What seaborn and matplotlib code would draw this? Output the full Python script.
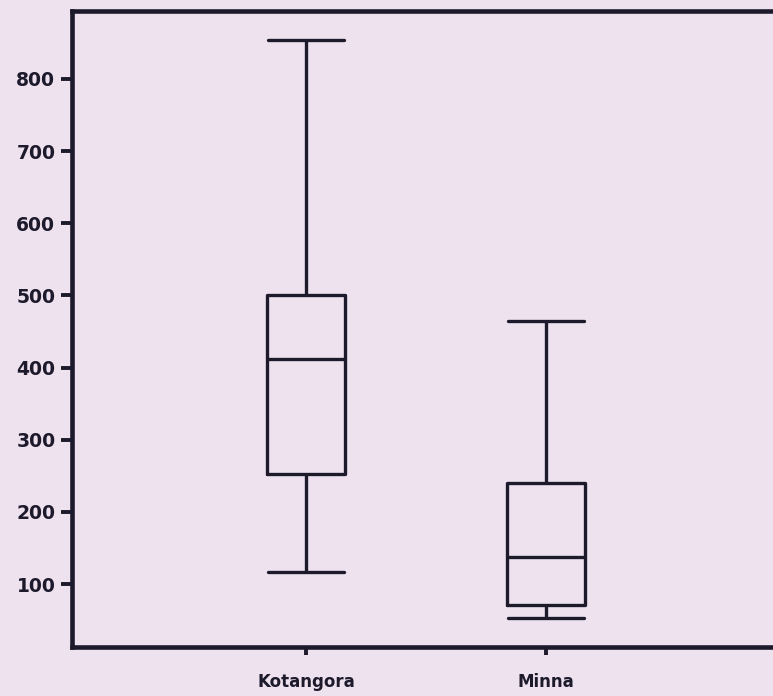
import numpy as np
import pandas as pd
import matplotlib
matplotlib.use("Agg")
import matplotlib.pyplot as plt
import seaborn as sns

# Five-number summaries (min, Q1, median, Q3, max)
locations = ["Kotangora", "Minna"]
kotangora_vals = [117, 253, 412, 500, 854]
minna_vals = [53, 71, 137, 240, 464]
yticks = [100, 200, 300, 400, 500, 600, 700, 800]

df = pd.DataFrame({
    "location": [locations[0]] * len(kotangora_vals) + [locations[1]] * len(minna_vals),
    "value": kotangora_vals + minna_vals,
})

sns.set_theme(style="ticks")
plt.rcParams["font.family"] = ["DejaVu Sans"]

bg = "#efe2ef"
ink = "#1d1a2c"

fig = plt.figure(figsize=(7.73, 6.96), dpi=100, facecolor=bg)
ax = fig.add_axes([72 / 773, 49 / 696, (780 - 72) / 773, (647 - 11) / 696])
ax.set_facecolor(bg)

sns.boxplot(data=df, x="location", y="value", order=locations, ax=ax,
            whis=np.inf, width=0.325, fill=False, color=ink, linecolor=ink,
            linewidth=2.4, capwidths=0.32)

ax.set_xlim(-0.975, 1.975)
ax.set_yticks(yticks)
ax.set_xlabel("")
ax.set_ylabel("")
for s in ax.spines.values():
    s.set_linewidth(3.3)
    s.set_color(ink)
ax.tick_params(axis="y", length=8, width=2.8, color=ink, pad=4)
ax.tick_params(axis="x", length=6, width=2.8, color=ink, pad=13)
for lab in ax.get_yticklabels():
    lab.set_fontweight("heavy")
    lab.set_fontsize(13.5)
    lab.set_color(ink)
for lab in ax.get_xticklabels():
    lab.set_fontweight("heavy")
    lab.set_fontsize(12)
    lab.set_color(ink)

fig.savefig("out.png", dpi=100, facecolor=bg)
